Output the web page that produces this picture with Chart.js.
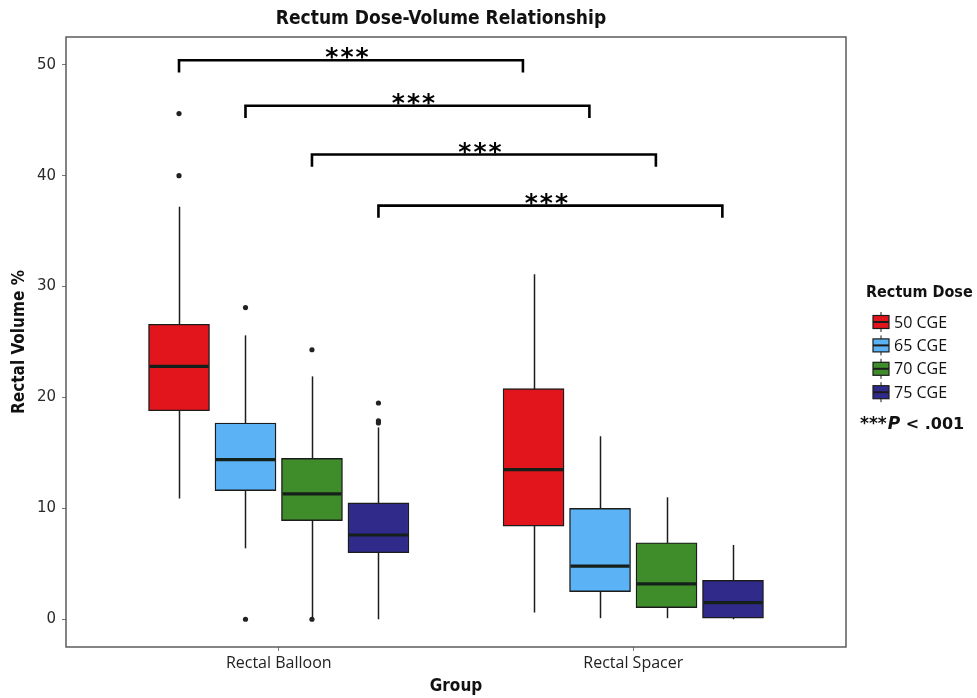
<!DOCTYPE html>
<html>
<head>
<meta charset="utf-8">
<script src="https://cdn.jsdelivr.net/npm/chart.js@4.4.1/dist/chart.umd.min.js"></script>
<style>
  html, body { margin: 0; padding: 0; background: #ffffff; }
  #wrap { width: 977px; height: 698px; }
</style>
</head>
<body>
<div id="wrap"><canvas id="c" width="977" height="698"></canvas></div>
<script>
// ---------------- data ----------------
const groups = ['Rectal Balloon', 'Rectal Spacer'];
const doses = ['50 CGE', '65 CGE', '70 CGE', '75 CGE'];
// each row = one dose, columns = [Rectal Balloon, Rectal Spacer]
const whiskerLow  = [[10.9, 0.6], [6.4, 0.1], [0.1, 0.1], [0.0, 0.0]];
const q1          = [[18.8, 8.4], [11.6, 2.5], [8.9, 1.05], [6.0, 0.1]];
const median      = [[22.8, 13.5], [14.4, 4.8], [11.3, 3.2], [7.6, 1.5]];
const q3          = [[26.6, 20.8], [17.7, 10.0], [14.5, 6.9], [10.5, 3.5]];
const whiskerHigh = [[37.2, 31.1], [25.6, 16.5], [21.9, 11.0], [17.3, 6.7]];
const outliers    = [[[45.6, 40.0], []], [[28.1, 0.0], []], [[24.3, 0.0], []], [[19.5, 17.9, 17.7], []]];
const bracketLevels = [50.4, 46.3, 41.9, 37.3];   // one bracket per dose: Balloon vs Spacer
const bracketLabel = '***';
const yTicks = [0, 10, 20, 30, 40, 50];

// ---------------- styles / layout ----------------
const doseColors = ['#e1151b', '#5bb2f5', '#3f8c2b', '#302b8b'];
const doseOffsets = [-0.28125, -0.09375, 0.09375, 0.28125];
const bracketSpan = 0.97;
const bracketTick = 1.1;
const ink = '#1c1c1c';
const condensed = '"DejaVu Sans Condensed", "DejaVu Sans", sans-serif';

function xPos(doseIdx, groupIdx) { return groupIdx + 1 + doseOffsets[doseIdx]; }

const barSets = doses.map((d, i) => ({
  type: 'bar',
  label: d,
  data: groups.map((g, gi) => ({ x: xPos(i, gi), y: [q1[i][gi], q3[i][gi]] })),
  backgroundColor: doseColors[i],
  borderColor: ink,
  borderWidth: 1.4,
  borderSkipped: false,
  barThickness: 61,
  grouped: false,
  order: 2
}));

const outlierPoints = [];
outliers.forEach((row, i) => row.forEach((vals, gi) => vals.forEach(v => outlierPoints.push({ x: xPos(i, gi), y: v }))));

const outlierSet = {
  type: 'scatter',
  label: 'Outliers',
  data: outlierPoints,
  pointRadius: 2.6,
  pointBackgroundColor: '#222222',
  pointBorderWidth: 0,
  showLine: false,
  order: 1
};

const boxExtras = {
  id: 'boxExtras',
  beforeDatasetsDraw(chart) {
    const { ctx, scales: { x, y } } = chart;
    ctx.save();
    ctx.strokeStyle = ink;
    ctx.lineWidth = 1.5;
    doses.forEach((d, i) => groups.forEach((g, gi) => {
      const px = Math.round(x.getPixelForValue(xPos(i, gi))) + 0.5;
      ctx.beginPath();
      ctx.moveTo(px, y.getPixelForValue(whiskerLow[i][gi]));
      ctx.lineTo(px, y.getPixelForValue(whiskerHigh[i][gi]));
      ctx.stroke();
    }));
    ctx.restore();
  },
  afterDatasetsDraw(chart) {
    const { ctx, scales: { x, y } } = chart;
    ctx.save();
    // medians
    ctx.strokeStyle = '#15201a';
    ctx.lineWidth = 3.2;
    doses.forEach((d, i) => groups.forEach((g, gi) => {
      const px = x.getPixelForValue(xPos(i, gi));
      const py = y.getPixelForValue(median[i][gi]);
      ctx.beginPath();
      ctx.moveTo(px - 29.5, py);
      ctx.lineTo(px + 29.5, py);
      ctx.stroke();
    }));
    // significance brackets
    ctx.strokeStyle = '#000000';
    ctx.lineWidth = 2.6;
    ctx.lineJoin = 'miter';
    ctx.fillStyle = '#000000';
    ctx.font = 'bold 25px "DejaVu Sans", sans-serif';
    ctx.textAlign = 'center';
    ctx.textBaseline = 'alphabetic';
    if ('letterSpacing' in ctx) ctx.letterSpacing = '2px';
    bracketLevels.forEach((lvl, i) => {
      const xa = x.getPixelForValue(xPos(i, 0));
      const xb = x.getPixelForValue(xPos(i, 0) + bracketSpan);
      const yl = y.getPixelForValue(lvl);
      const yt = y.getPixelForValue(lvl - bracketTick);
      ctx.beginPath();
      ctx.moveTo(xa, yt);
      ctx.lineTo(xa, yl);
      ctx.lineTo(xb, yl);
      ctx.lineTo(xb, yt);
      ctx.stroke();
      ctx.fillText(bracketLabel, (xa + xb) / 2 - 3, yl + 5);
    });
    ctx.restore();
  },
  afterDraw(chart) {
    const { ctx, chartArea: a } = chart;
    ctx.save();
    // panel border
    ctx.strokeStyle = '#505050';
    ctx.lineWidth = 1.4;
    ctx.strokeRect(a.left, a.top, a.right - a.left, a.bottom - a.top);
    // title
    ctx.fillStyle = '#111111';
    ctx.font = 'bold 19px ' + condensed;
    ctx.textAlign = 'center';
    ctx.textBaseline = 'middle';
    ctx.fillText('Rectum Dose-Volume Relationship', 441, 19);
    // legend
    ctx.textAlign = 'left';
    ctx.font = 'bold 16px ' + condensed;
    ctx.fillText('Rectum Dose', 866, 293);
    doses.forEach((d, i) => {
      const yc = 322 + i * 23.4;
      const x0 = 873;
      ctx.strokeStyle = ink;
      ctx.lineWidth = 1;
      ctx.beginPath();
      ctx.moveTo(x0 + 8, yc - 10);
      ctx.lineTo(x0 + 8, yc + 10);
      ctx.stroke();
      ctx.fillStyle = doseColors[i];
      ctx.fillRect(x0, yc - 6.5, 16, 13);
      ctx.lineWidth = 1.2;
      ctx.strokeRect(x0, yc - 6.5, 16, 13);
      ctx.lineWidth = 2;
      ctx.beginPath();
      ctx.moveTo(x0, yc);
      ctx.lineTo(x0 + 16, yc);
      ctx.stroke();
      ctx.fillStyle = '#111111';
      ctx.font = '16px "Open Sans", sans-serif';
      ctx.fillText(d, 894, yc + 1);
    });
    // p-value note
    let px = 860;
    const py = 425;
    ctx.font = 'bold 17px "DejaVu Sans", sans-serif';
    ctx.fillText('***', px, py);
    px += ctx.measureText('***').width + 1;
    ctx.font = 'italic bold 17px "DejaVu Sans", sans-serif';
    ctx.fillText('P', px, py);
    px += ctx.measureText('P').width;
    ctx.font = 'bold 16px "DejaVu Sans", sans-serif';
    ctx.fillText(' < .001', px, py);
    ctx.restore();
  }
};

new Chart(document.getElementById('c'), {
  type: 'bar',
  data: { datasets: [...barSets, outlierSet] },
  plugins: [boxExtras],
  options: {
    responsive: false,
    animation: false,
    devicePixelRatio: 1,
    layout: { padding: { top: 37, right: 131, bottom: 0, left: 0 } },
    plugins: { legend: { display: false }, tooltip: { enabled: false }, title: { display: false } },
    scales: {
      x: {
        type: 'linear',
        min: 0.4,
        max: 2.6,
        offset: false,
        afterFit(s) { s.height = 51; },
        afterBuildTicks(s) { s.ticks = groups.map((g, i) => ({ value: i + 1 })); },
        grid: { display: true, drawOnChartArea: false, drawTicks: true, tickLength: 4, tickColor: '#777777', offset: false },
        border: { display: false },
        ticks: {
          callback: (v) => groups[Math.round(v) - 1] || '',
          color: '#222222',
          font: { family: '"Open Sans", sans-serif', size: 16 },
          padding: 3,
          maxRotation: 0,
          autoSkip: false
        },
        title: {
          display: true,
          text: 'Group',
          color: '#111111',
          font: { family: condensed, size: 17, weight: 'bold' },
          padding: { top: 0, bottom: 1 }
        }
      },
      y: {
        type: 'linear',
        min: -2.5,
        max: 52.5,
        afterFit(s) { s.width = 66; },
        afterBuildTicks(s) { s.ticks = yTicks.map(v => ({ value: v })); },
        grid: { display: true, drawOnChartArea: false, drawTicks: true, tickLength: 4, tickColor: '#777777' },
        border: { display: false },
        ticks: {
          color: '#2a2a2a',
          font: { family: '"DejaVu Sans", sans-serif', size: 15 },
          padding: 6
        },
        title: {
          display: true,
          text: 'Rectal Volume %',
          color: '#111111',
          font: { family: condensed, size: 17, weight: 'bold' },
          padding: { top: 9, bottom: 0 }
        }
      }
    }
  }
});
</script>
</body>
</html>
